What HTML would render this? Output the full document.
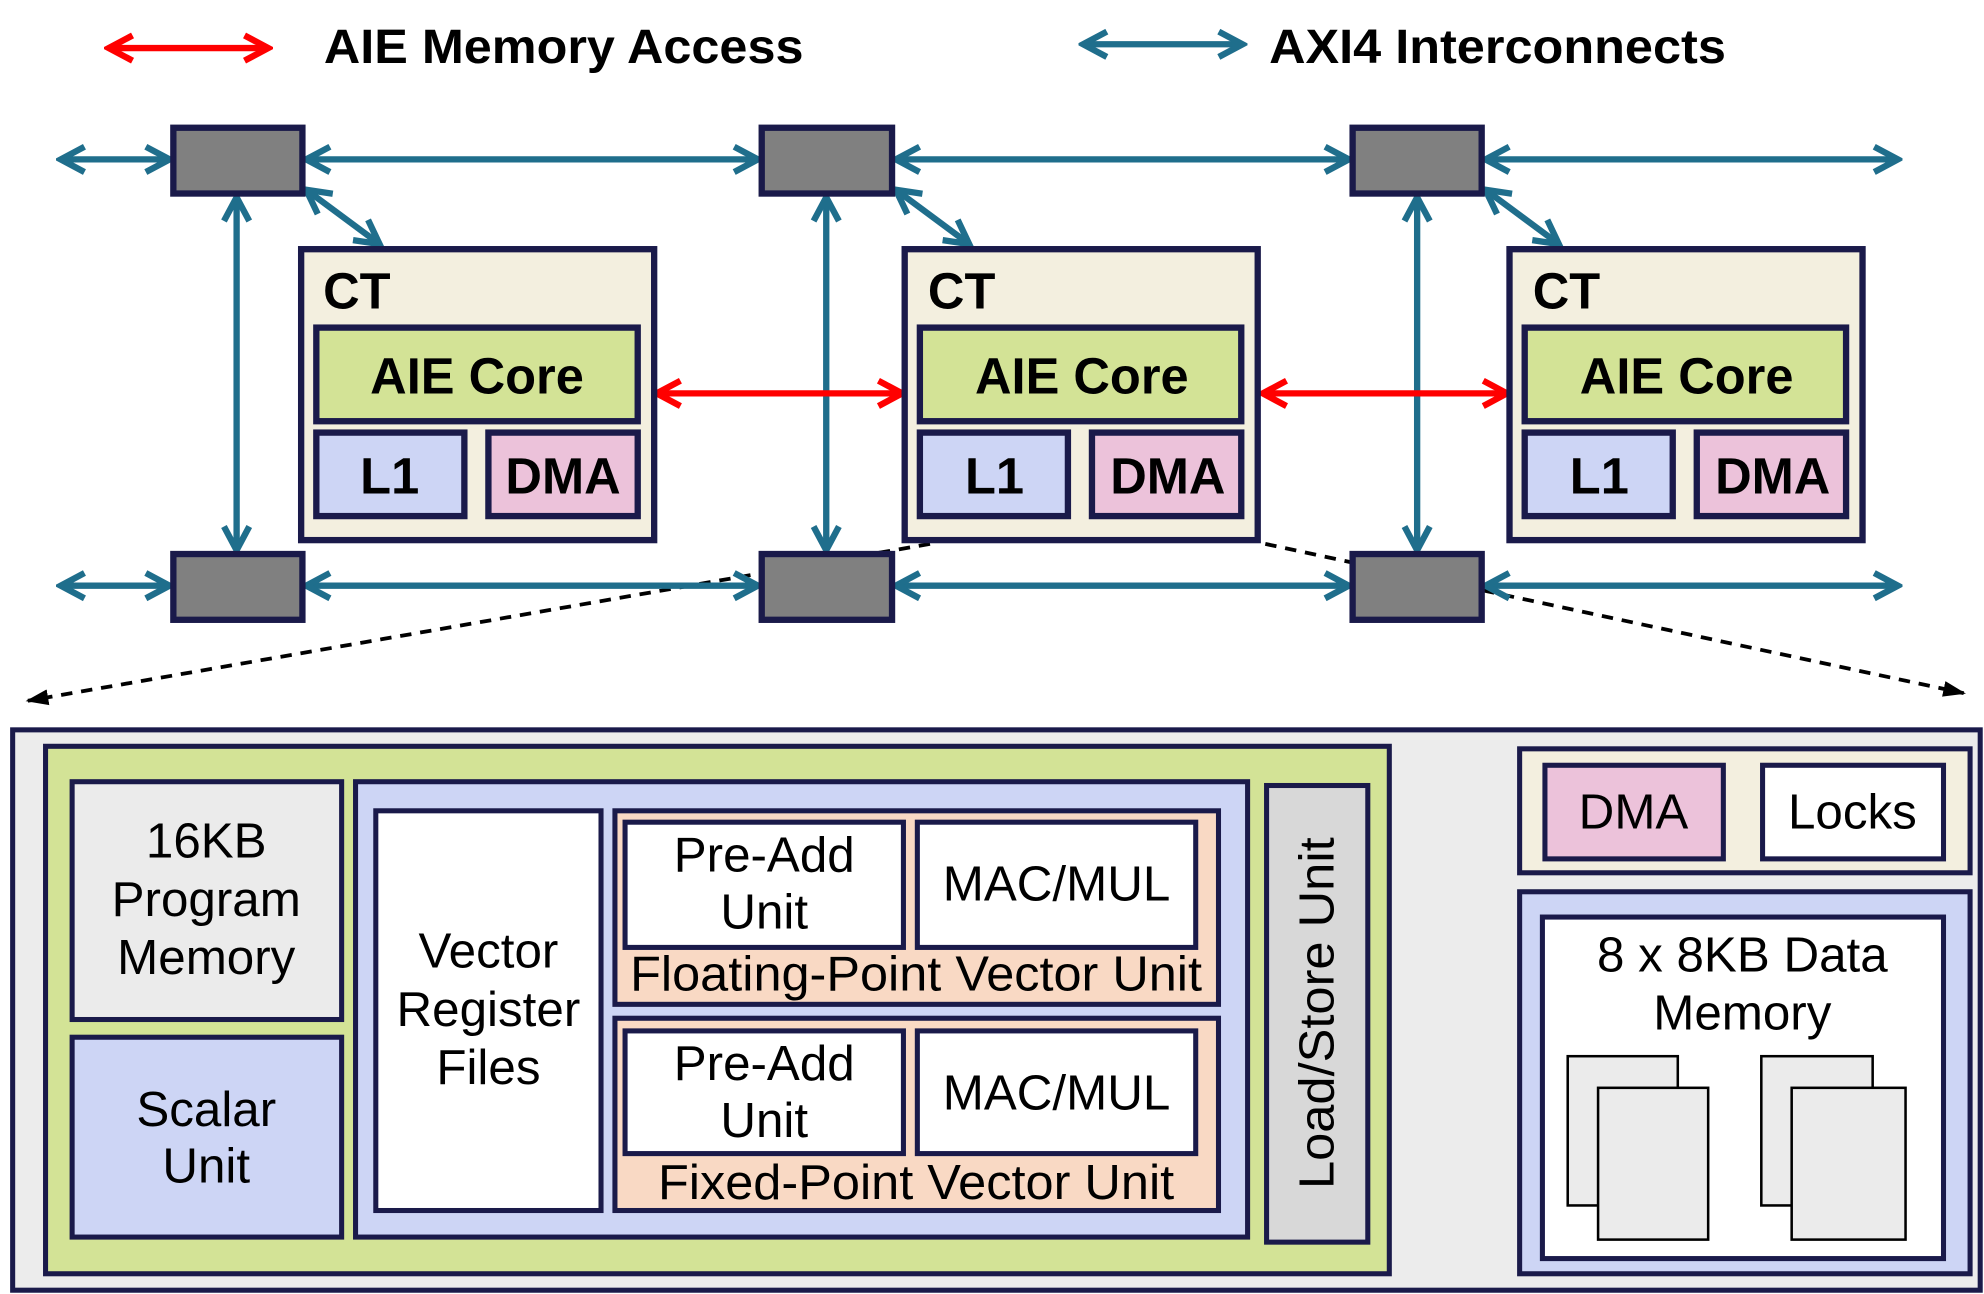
<!DOCTYPE html>
<html><head><meta charset="utf-8"><style>
html,body{margin:0;padding:0;background:#fff}
svg{display:block}
text{font-family:"Liberation Sans",Arial,sans-serif;fill:#000}
.b{font-weight:bold}
</style></head><body>
<svg width="1984" height="1294" viewBox="0 0 1568 1023" preserveAspectRatio="none" xmlns="http://www.w3.org/2000/svg">
<defs>
<marker id="t" viewBox="0 0 20 20" refX="17" refY="10" markerWidth="5" markerHeight="5" orient="auto-start-reverse" markerUnits="strokeWidth">
<path d="M2,2 L17,10 L2,18" fill="none" stroke="#1f6e8c" stroke-width="4" stroke-linejoin="miter"/></marker>
<marker id="r" viewBox="0 0 20 20" refX="17" refY="10" markerWidth="5" markerHeight="5" orient="auto-start-reverse" markerUnits="strokeWidth">
<path d="M2,2 L17,10 L2,18" fill="none" stroke="#ff0000" stroke-width="4"/></marker>
<marker id="k" viewBox="0 0 20 20" refX="18" refY="10" markerWidth="6" markerHeight="6" orient="auto" markerUnits="strokeWidth">
<path d="M0,3 L20,10 L0,17 Z" fill="#000"/></marker>
</defs>
<g stroke="#000" stroke-width="3" fill="none" stroke-dasharray="9,7">
<line x1="735" y1="430" x2="22" y2="554" marker-end="url(#k)"/>
<line x1="1000" y1="430" x2="1552" y2="548" marker-end="url(#k)"/>
</g>
<g stroke="#1f6e8c" stroke-width="5" fill="none">
<line x1="86" y1="38" x2="212" y2="38" stroke="#ff0000" marker-start="url(#r)" marker-end="url(#r)"/>
<line x1="856" y1="35" x2="982" y2="35" marker-start="url(#t)" marker-end="url(#t)"/>
<line x1="48" y1="126" x2="134" y2="126" marker-start="url(#t)" marker-end="url(#t)"/>
<line x1="242" y1="126" x2="599" y2="126" marker-start="url(#t)" marker-end="url(#t)"/>
<line x1="708" y1="126" x2="1066" y2="126" marker-start="url(#t)" marker-end="url(#t)"/>
<line x1="1174" y1="126" x2="1500" y2="126" marker-start="url(#t)" marker-end="url(#t)"/>
<line x1="48" y1="463" x2="134" y2="463" marker-start="url(#t)" marker-end="url(#t)"/>
<line x1="242" y1="463" x2="599" y2="463" marker-start="url(#t)" marker-end="url(#t)"/>
<line x1="708" y1="463" x2="1066" y2="463" marker-start="url(#t)" marker-end="url(#t)"/>
<line x1="1174" y1="463" x2="1500" y2="463" marker-start="url(#t)" marker-end="url(#t)"/>
<line x1="187" y1="156" x2="187" y2="435" marker-start="url(#t)" marker-end="url(#t)"/>
<line x1="653" y1="156" x2="653" y2="435" marker-start="url(#t)" marker-end="url(#t)"/>
<line x1="1120" y1="156" x2="1120" y2="435" marker-start="url(#t)" marker-end="url(#t)"/>
<line x1="242" y1="150" x2="300" y2="193" marker-start="url(#t)" marker-end="url(#t)"/>
<line x1="708" y1="150" x2="766" y2="193" marker-start="url(#t)" marker-end="url(#t)"/>
<line x1="1174" y1="150" x2="1232" y2="193" marker-start="url(#t)" marker-end="url(#t)"/>
<line x1="1100" y1="665" x2="1199" y2="665" marker-start="url(#t)" marker-end="url(#t)"/>
<line x1="519" y1="311" x2="713" y2="311" stroke="#ff0000" marker-start="url(#r)" marker-end="url(#r)"/>
<line x1="998" y1="311" x2="1191" y2="311" stroke="#ff0000" marker-start="url(#r)" marker-end="url(#r)"/>
<line x1="1100" y1="867" x2="1199" y2="867" stroke="#ff0000" marker-start="url(#r)" marker-end="url(#r)"/>
</g>
<text x="256" y="50" font-size="38" class="b" textLength="379" lengthAdjust="spacingAndGlyphs">AIE Memory Access</text>
<text x="1003" y="50" font-size="38" class="b" textLength="361" lengthAdjust="spacingAndGlyphs">AXI4 Interconnects</text>
<g fill="#808080" stroke="#1a1a4a" stroke-width="5">
<rect x="137" y="101" width="102" height="52"/><rect x="602" y="101" width="103" height="52"/><rect x="1069" y="101" width="102" height="52"/>
<rect x="137" y="438" width="102" height="52"/><rect x="602" y="438" width="103" height="52"/><rect x="1069" y="438" width="102" height="52"/>
</g>
<g stroke="#1a1a4a" stroke-width="5">
<g id="ct">
<rect x="238" y="197" width="279" height="230" fill="#f3efdf"/>
<rect x="250" y="259" width="254" height="74" fill="#d3e396"/>
<rect x="250" y="342" width="117" height="66" fill="#cdd5f5"/>
<rect x="386" y="342" width="118" height="66" fill="#ecc2da"/>
</g>
<use href="#ct" x="477"/><use href="#ct" x="955"/>
</g>
<g font-size="40" class="b" text-anchor="middle">
<text x="282" y="244">CT</text><text x="760" y="244">CT</text><text x="1238" y="244">CT</text>
<text x="377" y="311">AIE Core</text><text x="855" y="311">AIE Core</text><text x="1333" y="311">AIE Core</text>
<text x="308" y="390">L1</text><text x="786" y="390">L1</text><text x="1264" y="390">L1</text>
<text x="445" y="390">DMA</text><text x="923" y="390">DMA</text><text x="1401" y="390">DMA</text>
</g>
<rect x="10" y="577" width="1555" height="443" fill="#ececec" stroke="#1a1a4a" stroke-width="4"/>
<g stroke="#1a1a4a" stroke-width="4">
<rect x="36" y="590" width="1062" height="417" fill="#d3e396"/>
<rect x="57" y="618" width="213" height="188" fill="#ebebeb"/>
<rect x="57" y="820" width="213" height="158" fill="#cdd5f5"/>
<rect x="281" y="618" width="705" height="360" fill="#cdd5f5"/>
<rect x="297" y="641" width="178" height="316" fill="#fff"/>
<rect x="486" y="641" width="477" height="153" fill="#f9d9c4"/>
<rect x="494" y="650" width="220" height="99" fill="#fff"/>
<rect x="725" y="650" width="220" height="99" fill="#fff"/>
<rect x="486" y="805" width="477" height="152" fill="#f9d9c4"/>
<rect x="494" y="815" width="220" height="97" fill="#fff"/>
<rect x="725" y="815" width="220" height="97" fill="#fff"/>
<rect x="1001" y="621" width="80" height="361" fill="#d8d8d8"/>
<rect x="1201" y="592" width="356" height="98" fill="#f3efdf"/>
<rect x="1221" y="605" width="141" height="74" fill="#ecc2da"/>
<rect x="1393" y="605" width="143" height="74" fill="#fff"/>
<rect x="1201" y="705" width="356" height="302" fill="#cdd5f5"/>
<rect x="1219" y="725" width="317" height="270" fill="#fff"/>
</g>
<g stroke="#000" stroke-width="2" fill="#ebebeb">
<rect x="1239" y="835" width="87" height="118"/><rect x="1263" y="860" width="87" height="120"/>
<rect x="1392" y="835" width="88" height="118"/><rect x="1416" y="860" width="90" height="120"/>
</g>
<g font-size="39" text-anchor="middle">
<text x="163" y="678">16KB</text><text x="163" y="724">Program</text><text x="163" y="770">Memory</text>
<text x="163" y="890">Scalar</text><text x="163" y="935">Unit</text>
<text x="386" y="765">Vector</text><text x="386" y="811">Register</text><text x="386" y="857">Files</text>
<text x="604" y="689">Pre-Add</text><text x="604" y="734">Unit</text>
<text x="835" y="712">MAC/MUL</text>
<text x="724" y="783" textLength="452" lengthAdjust="spacingAndGlyphs">Floating-Point Vector Unit</text>
<text x="604" y="854">Pre-Add</text><text x="604" y="899">Unit</text>
<text x="835" y="877">MAC/MUL</text>
<text x="724" y="948" textLength="408" lengthAdjust="spacingAndGlyphs">Fixed-Point Vector Unit</text>
<text transform="translate(1054,801) rotate(-90)" textLength="278" lengthAdjust="spacingAndGlyphs">Load/Store Unit</text>
<text x="1291" y="655">DMA</text><text x="1464" y="655">Locks</text>
<text x="1377" y="768">8 x 8KB Data</text><text x="1377" y="814">Memory</text>
</g>
</svg>
</body></html>
